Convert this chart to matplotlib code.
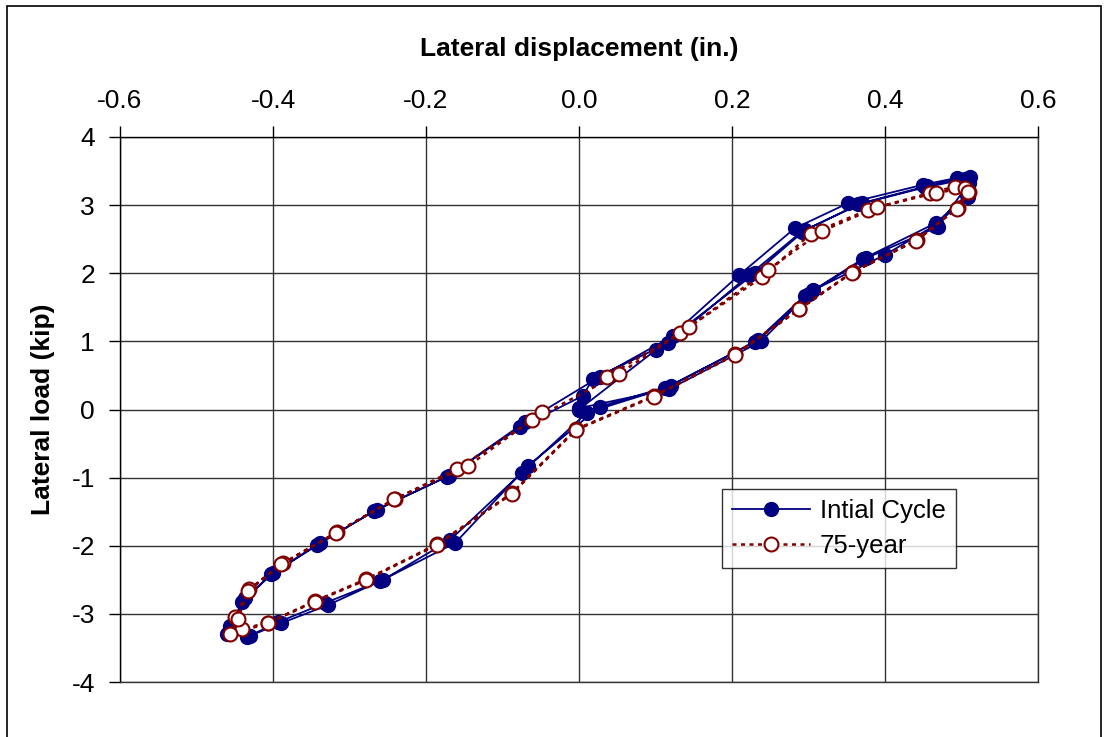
import numpy as np
import matplotlib
matplotlib.use('Agg')
from matplotlib import pyplot as plt
import matplotlib as mpl
from matplotlib.patches import Rectangle

# Initial cycle: three loops of displacement (in.) and load (kip)
init_disp = [
    0.000, 0.100, 0.209, 0.282, 0.352, 0.450, 0.494, 0.507, 0.467, 0.371, 0.295, 0.230, 0.112, 0.010,
    -0.075, -0.169, -0.256, -0.332, -0.393, -0.434, -0.456, -0.437, -0.400, -0.339, -0.264, -0.173,
    -0.077, 0.005,
    0.018, 0.116, 0.222, 0.291, 0.370, 0.455, 0.511, 0.508, 0.465, 0.400, 0.306, 0.234, 0.120, 0.027,
    -0.067, -0.162, -0.260, -0.328, -0.390, -0.430, -0.460, -0.440, -0.402, -0.342, -0.268, -0.170,
    -0.070, 0.027,
    0.123, 0.230, 0.295, 0.365, 0.452, 0.505, 0.510, 0.469, 0.375, 0.300, 0.238, 0.118, 0.000,
]
init_load = [
    0.00, 0.87, 1.97, 2.66, 3.03, 3.30, 3.40, 3.15, 2.74, 2.21, 1.67, 0.99, 0.31, -0.05,
    -0.93, -1.92, -2.50, -2.84, -3.12, -3.34, -3.18, -2.77, -2.40, -1.96, -1.47, -0.99,
    -0.26, 0.20,
    0.45, 0.97, 1.97, 2.61, 3.03, 3.28, 3.42, 3.12, 2.70, 2.27, 1.75, 1.02, 0.35, 0.04,
    -0.83, -1.96, -2.52, -2.87, -3.14, -3.32, -3.30, -2.82, -2.42, -1.99, -1.49, -0.97,
    -0.18, 0.48,
    1.08, 2.00, 2.63, 3.01, 3.26, 3.38, 3.33, 2.68, 2.22, 1.70, 1.00, 0.30, 0.02,
]

# 75-year: two loops
aged_disp = [
    0.036, 0.132, 0.239, 0.303, 0.378, 0.459, 0.491, 0.510, 0.495, 0.442, 0.358, 0.288, 0.204, 0.098,
    -0.004, -0.088, -0.186, -0.278, -0.345, -0.407, -0.440, -0.450, -0.431, -0.387, -0.316, -0.240,
    -0.159, -0.061,
    0.052, 0.144, 0.247, 0.318, 0.390, 0.467, 0.505, 0.508, 0.494, 0.441, 0.357, 0.288, 0.204, 0.098,
    -0.004, -0.088, -0.186, -0.278, -0.345, -0.407, -0.456, -0.446, -0.433, -0.389, -0.318, -0.242,
    -0.145, -0.048,
]
aged_load = [
    0.48, 1.12, 1.94, 2.58, 2.93, 3.18, 3.27, 3.19, 2.96, 2.49, 2.02, 1.48, 0.81, 0.20,
    -0.29, -1.23, -1.98, -2.49, -2.81, -3.13, -3.22, -3.05, -2.64, -2.26, -1.80, -1.31,
    -0.87, -0.15,
    0.52, 1.21, 2.05, 2.62, 2.97, 3.18, 3.25, 3.20, 2.95, 2.48, 2.01, 1.47, 0.80, 0.19,
    -0.30, -1.24, -1.99, -2.50, -2.82, -3.14, -3.30, -3.08, -2.66, -2.27, -1.81, -1.32,
    -0.83, -0.04,
]

x_ticks = [-0.6, -0.4, -0.2, 0.0, 0.2, 0.4, 0.6]
y_ticks = [-4, -3, -2, -1, 0, 1, 2, 3, 4]


def set_mpl():
    mpl.rcParams.update(
        {
            'font.family': ['Liberation Sans', 'DejaVu Sans'],
            'font.size': 19,
            'axes.linewidth': 1.0,
            'xtick.labelsize': 19,
            'ytick.labelsize': 19,
        }
    )


def plot_figure():
    set_mpl()
    fig = plt.figure(figsize=(11.08, 7.37), dpi=100)
    ax = fig.add_axes([120 / 1108, 1 - 682 / 737, 918 / 1108, 545 / 737])

    ax.plot(init_disp, init_load, color='#000080', linewidth=1.3, marker='o',
            markersize=10, markerfacecolor='#000080', markeredgecolor='#000080',
            label='Intial Cycle', zorder=3)
    ax.plot(aged_disp, aged_load, color='#800000', linewidth=1.8, linestyle=(0, (1.6, 1.8)),
            marker='o', markersize=10, markerfacecolor='white', markeredgecolor='#800000',
            markeredgewidth=1.5, label='75-year', zorder=4)

    ax.set_xlim(-0.6, 0.6)
    ax.set_ylim(-4, 4)
    ax.set_xticks(x_ticks)
    ax.set_xticklabels(['%.1f' % v for v in x_ticks])
    ax.set_yticks(y_ticks)
    ax.set_yticklabels([str(v) for v in y_ticks])
    ax.xaxis.tick_top()
    ax.xaxis.set_label_position('top')
    ax.tick_params(axis='x', direction='out', length=8, width=1, pad=9, colors='black')
    ax.tick_params(axis='y', direction='out', length=8, width=1, pad=10, colors='black')
    ax.grid(True, color='#333333', linewidth=1.0)
    ax.set_axisbelow(True)
    for side in ['right', 'bottom']:
        ax.spines[side].set_color('#333333')

    ax.set_xlabel('Lateral displacement (in.)', fontsize=19, fontweight='bold', labelpad=24)
    ax.set_ylabel('Lateral load (kip)', fontsize=19, fontweight='bold', labelpad=12)

    leg = ax.legend(loc='upper left', bbox_to_anchor=(0.656, 0.354), frameon=True,
                    fancybox=False, edgecolor='black', fontsize=18.5, handlelength=3.0,
                    borderpad=0.4, labelspacing=0.4, handletextpad=0.4, borderaxespad=0)
    leg.get_frame().set_linewidth(1.0)

    # outer chart frame
    fig.patches.append(Rectangle((7 / 1108, -0.02), 1094 / 1108, 1 - 6 / 737 + 0.02,
                                 transform=fig.transFigure, fill=False,
                                 edgecolor='black', linewidth=1.2))

    fig.savefig('out.png', dpi=100)


if __name__ == "__main__":
    plot_figure()
